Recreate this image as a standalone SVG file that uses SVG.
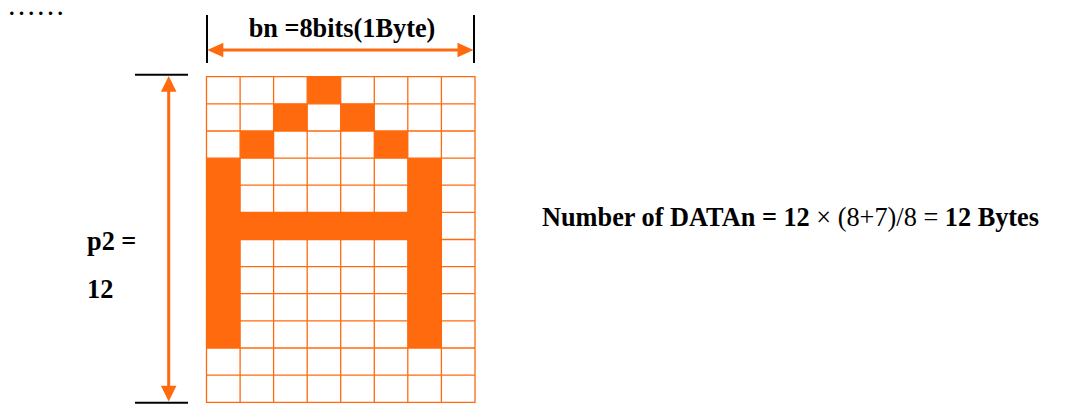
<svg xmlns="http://www.w3.org/2000/svg" width="1072" height="405" viewBox="0 0 1072 405">
<style>
.t{font-family:"Liberation Serif","Times New Roman",serif;fill:#000}
.b{font-weight:bold}
.cell{fill:#FF6A0E}
.grid{stroke:#FF6A0E;stroke-width:1.3;fill:none}
.tick{stroke:#000;stroke-width:2}
.dim{stroke:#FF6A0E;stroke-width:3}
.head{fill:#FF6A0E}
</style>
<rect width="1072" height="405" fill="#fff"/>
<text class="t" x="7" y="15" font-size="29">……</text>
<g id="grid">
<g id="filled">
<rect class="cell" x="307.2" y="76.7" width="33.6" height="27.1"/>
<rect class="cell" x="273.6" y="103.8" width="33.6" height="27.2"/>
<rect class="cell" x="340.7" y="103.8" width="33.6" height="27.2"/>
<rect class="cell" x="240.1" y="131" width="33.6" height="27.1"/>
<rect class="cell" x="374.3" y="131" width="33.6" height="27.1"/>
<rect class="cell" x="206.5" y="158.1" width="33.6" height="189.9"/>
<rect class="cell" x="407.8" y="158.1" width="33.6" height="189.9"/>
<rect class="cell" x="206.5" y="212.3" width="234.9" height="27.2"/>
</g>
<path class="grid" d="M206.5 76.7H475V402.3H206.5Z M240.1 76.7V402.3 M273.6 76.7V402.3 M307.2 76.7V402.3 M340.7 76.7V402.3 M374.3 76.7V402.3 M407.8 76.7V402.3 M441.4 76.7V402.3 M206.5 103.8H475 M206.5 131H475 M206.5 158.1H475 M206.5 185.2H475 M206.5 212.3H475 M206.5 239.5H475 M206.5 266.6H475 M206.5 293.7H475 M206.5 320.9H475 M206.5 348H475 M206.5 375.1H475"/>
</g>
<g id="width-dimension">
<line class="tick" x1="207" y1="15" x2="207" y2="63"/>
<line class="tick" x1="474" y1="15" x2="474" y2="63"/>
<line class="dim" x1="220" y1="50" x2="461" y2="50"/>
<polygon class="head" points="207.3,50 223.3,42.7 223.3,57.3"/>
<polygon class="head" points="473.5,50 457.5,42.7 457.5,57.3"/>
<text class="t b" x="342" y="37" font-size="26.3" text-anchor="middle">bn =8bits(1Byte)</text>
</g>
<g id="height-dimension">
<line class="tick" x1="135" y1="74.8" x2="188" y2="74.8"/>
<line class="tick" x1="135" y1="402.7" x2="188" y2="402.7"/>
<line class="dim" x1="168.7" y1="88" x2="168.7" y2="390"/>
<polygon class="head" points="168.7,76 160.9,91.7 176.5,91.7"/>
<polygon class="head" points="168.7,401.5 160.9,385.8 176.5,385.8"/>
<text class="t b" x="87" y="250" font-size="26.3">p2 =</text>
<text class="t b" x="87" y="298" font-size="26.3">12</text>
</g>
<g id="formula">
<text class="t" x="542" y="226" font-size="26.3"><tspan class="b">Number of DATAn = 12</tspan> × (8+7)/8 = <tspan class="b">12 Bytes</tspan></text>
</g>
</svg>
